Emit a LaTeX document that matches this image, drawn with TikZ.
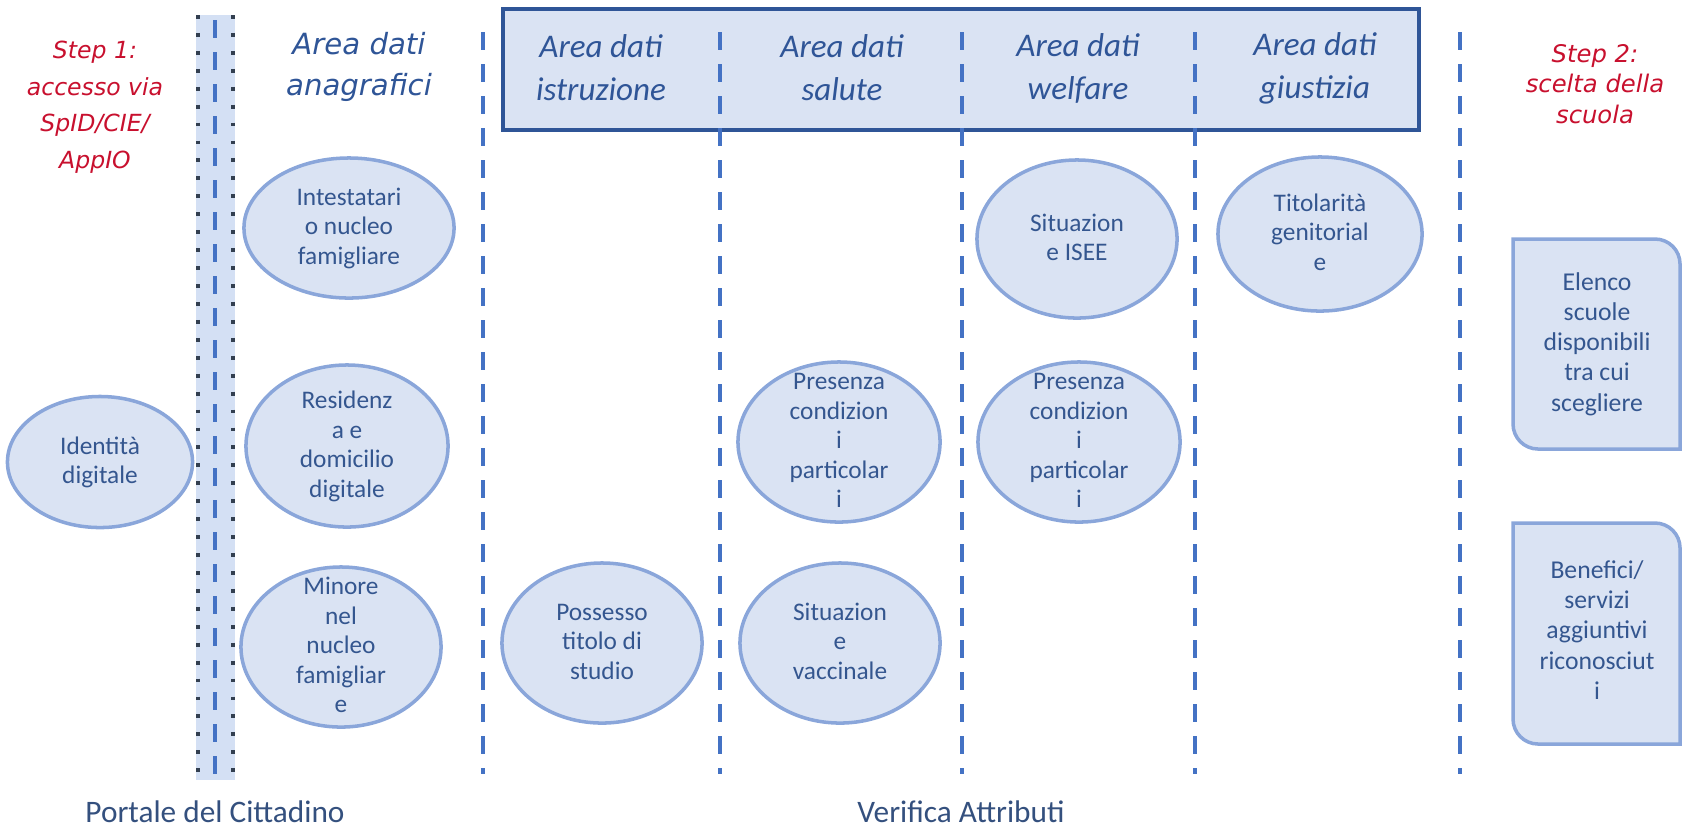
\documentclass[tikz,border=0pt]{standalone}
\usepackage{fontspec}
\setmainfont{Carlito}
\newfontfamily\stepfont{DejaVu Sans}[ItalicFont={DejaVu Sans Oblique}]
\usepackage{xcolor}
\usepackage{tikz}
\usetikzlibrary{shapes,shapes.geometric}

\definecolor{ovalfill}{HTML}{DAE3F3}
\definecolor{ovalline}{HTML}{8AA6DA}
\definecolor{ovaltxt}{HTML}{34568F}
\definecolor{hdrblue}{HTML}{2F5597}
\definecolor{stepred}{HTML}{C8102E}
\definecolor{sepblue}{HTML}{4472C4}
\definecolor{bandfill}{HTML}{D4E0F4}
\definecolor{dotgray}{HTML}{333F50}
\definecolor{foottxt}{HTML}{34507E}

% text of an oval, kept from growing the shape
\newcommand{\ov}[1]{\smash{\raisebox{-2pt}{\begin{tabular}{@{}c@{}}#1\end{tabular}}}}

\begin{document}
\begin{tikzpicture}[x=0.01cm, y=-0.01cm,
		oval/.style={ellipse, draw=ovalline, fill=ovalfill, line width=1pt, inner sep=0pt,
			minimum width=2cm, minimum height=1.6cm, text=ovaltxt, font=\fontsize{7.2}{8.4}\selectfont},
		hdr/.style={align=center, text=hdrblue, font=\fontsize{9.4}{12.2}\selectfont\itshape},
		steptxt/.style={align=center, text=stepred},
		sep/.style={draw=sepblue, line width=1.2pt, dash pattern=on 5.1pt off 4pt},
		rbox/.style={draw=ovalline, fill=ovalfill, line width=1pt},
		rtxt/.style={align=center, text=ovaltxt, font=\fontsize{7.3}{8.6}\selectfont},
		foot/.style={text=foottxt, font=\fontsize{8.9}{10}\selectfont}]
		\useasboundingbox (0,0) rectangle (1683,832);
		
		% portale band
		\fill[bandfill] (196,15) rectangle (235,780);
		\draw[dotgray, line width=1pt, dash pattern=on 1.1pt off 4pt] (198,15) -- (198,780);
		\draw[dotgray, line width=1pt, dash pattern=on 1.1pt off 4pt] (233,15) -- (233,780);
		\draw[sep] (215,20) -- (215,775);
		
		% header box
		\draw[draw=hdrblue, fill=ovalfill, line width=1.2pt] (503,9) rectangle (1419,130);
		\foreach \x in {483,720,962,1195,1460}
			\draw[sep] (\x,32) -- (\x,774);
		
		\node[steptxt, font=\stepfont\itshape\fontsize{6.7}{10.4}\selectfont] (st1) at (95,107) {Step 1:\\accesso via\\SpID/CIE/\\AppIO};
		\node[steptxt, font=\stepfont\itshape\fontsize{6.9}{8.6}\selectfont] (st2) at (1595,84) {Step 2:\\scelta della\\scuola};
		
		\node[hdr, font=\stepfont\itshape\fontsize{8.3}{11.8}\selectfont] (h0) at (359,67) {Area dati\\anagrafici};
		\node[hdr] (h1) at (601,68) {Area dati\\istruzione};
		\node[hdr] (h2) at (842,68) {Area dati\\salute};
		\node[hdr] (h3) at (1078,68) {Area dati\\welfare};
		\node[hdr] (h4) at (1315,68) {Area dati\\giustizia};
		
		\node[oval, minimum width=1.85cm, minimum height=1.31cm] (id0) at (100,462) {\ov{Identità\\digitale}};
		\node[oval, minimum width=2.1cm, minimum height=1.4cm] (a1) at (349,228) {\ov{Intestatari\\o nucleo\\famigliare}};
		\node[oval, minimum width=2.02cm, minimum height=1.62cm] (a2) at (347,446) {\ov{Residenz\\a e\\domicilio\\digitale}};
		\node[oval] (a3) at (341,647) {\ov{Minore\\nel\\nucleo\\famigliar\\e}};
		\node[oval] (i1) at (602,643) {\ov{Possesso\\titolo di\\studio}};
		\node[oval, minimum width=2.02cm] (s1) at (839,442) {\ov{Presenza\\condizion\\i\\particolar\\i}};
		\node[oval] (s2) at (840,643) {\ov{Situazion\\e\\vaccinale}};
		\node[oval, minimum height=1.58cm] (w1) at (1077,239) {\ov{Situazion\\e ISEE}};
		\node[oval, minimum width=2.02cm] (w2) at (1079,442) {\ov{Presenza\\condizion\\i\\particolar\\i}};
		\node[oval, minimum width=2.04cm, minimum height=1.54cm] (g1) at (1320,234) {\ov{Titolarità\\genitorial\\e}};
		
		% step 2 boxes
		\draw[rbox] (1513,239) -- (1655,239) arc[start angle=90, end angle=0, radius=0.25cm]
			-- (1680,449) -- (1538,449) arc[start angle=270, end angle=180, radius=0.25cm] -- cycle;
		\draw[rbox] (1513,523) -- (1655,523) arc[start angle=90, end angle=0, radius=0.25cm]
			-- (1680,744) -- (1538,744) arc[start angle=270, end angle=180, radius=0.25cm] -- cycle;
		\node[rtxt] (r1) at (1597,344) {Elenco\\scuole\\disponibili\\tra cui\\scegliere};
		\node[rtxt] (r2) at (1597,630) {Benefici/\\servizi\\aggiuntivi\\riconosciut\\i};
		
		\node[foot] (f1) at (215,812) {Portale del Cittadino};
		\node[foot] (f2) at (961,812) {Verifica Attributi};
		
	\end{tikzpicture}
\end{document}
